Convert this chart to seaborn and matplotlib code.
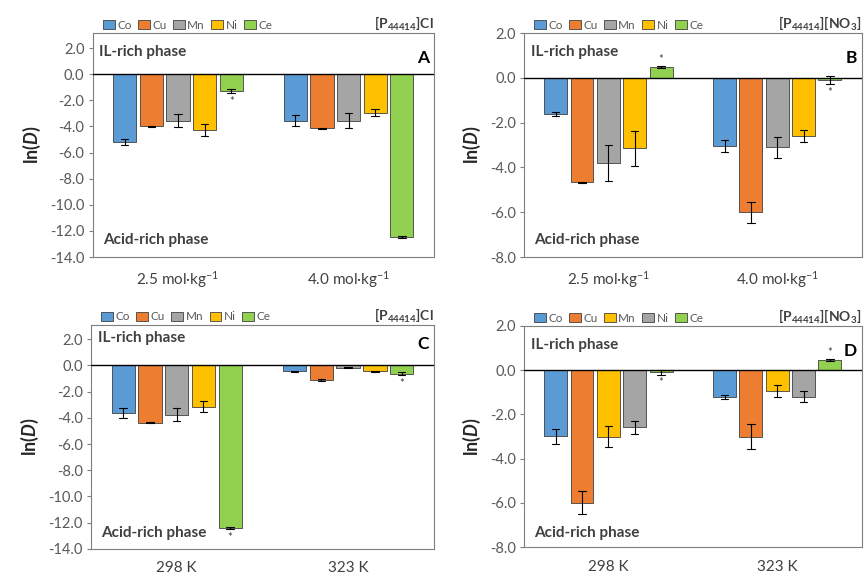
import pandas as pd
import matplotlib
matplotlib.use('Agg')
import matplotlib.pyplot as plt
import seaborn as sns

# Metals and group labels
metals = ['Co', 'Cu', 'Mn', 'Ni', 'Ce']
conc_labels = ['2.5 mol·kg$^{-1}$', '4.0 mol·kg$^{-1}$']
temp_labels = ['298 K', '323 K']

# ln(D) values (first group, second group)
a_values = {'Co': [-5.2, -3.55], 'Cu': [-4.0, -4.15], 'Mn': [-3.55, -3.55], 'Ni': [-4.3, -2.95], 'Ce': [-1.3, -12.45]}
a_errors = {'Co': [0.2, 0.45], 'Cu': [0.05, 0.05], 'Mn': [0.5, 0.6], 'Ni': [0.47, 0.25], 'Ce': [0.15, 0.1]}

b_values = {'Co': [-1.62, -3.05], 'Cu': [-4.67, -6.0], 'Mn': [-3.8, -3.1], 'Ni': [-3.15, -2.6], 'Ce': [0.48, -0.09]}
b_errors = {'Co': [0.1, 0.28], 'Cu': [0.03, 0.47], 'Mn': [0.82, 0.46], 'Ni': [0.78, 0.28], 'Ce': [0.05, 0.18]}

c_values = {'Co': [-3.64, -0.45], 'Cu': [-4.36, -1.1], 'Mn': [-3.77, -0.18], 'Ni': [-3.14, -0.45], 'Ce': [-12.4, -0.63]}
c_errors = {'Co': [0.4, 0.05], 'Cu': [0.03, 0.08], 'Mn': [0.5, 0.03], 'Ni': [0.4, 0.05], 'Ce': [0.1, 0.1]}

d_values = {'Co': [-2.99, -1.2], 'Cu': [-6.0, -3.0], 'Mn': [-3.0, -0.95], 'Ni': [-2.58, -1.2], 'Ce': [-0.1, 0.45]}
d_errors = {'Co': [0.35, 0.1], 'Cu': [0.52, 0.57], 'Mn': [0.47, 0.28], 'Ni': [0.3, 0.24], 'Ce': [0.1, 0.05]}

# asterisk on the Ce bars: 'below' or 'above' per group, None for none
a_stars = ['below', None]
b_stars = ['above', 'below']
c_stars = ['below', 'below']
d_stars = ['below', 'above']

colors_std = {'Co': '#5B9BD5', 'Cu': '#ED7D31', 'Mn': '#A5A5A5', 'Ni': '#FFC000', 'Ce': '#92D050'}
colors_d = {'Co': '#5B9BD5', 'Cu': '#ED7D31', 'Mn': '#FFC000', 'Ni': '#A5A5A5', 'Ce': '#92D050'}

sns.set_style('white')
plt.rcParams['font.family'] = ['Lato', 'DejaVu Sans']
plt.rcParams['mathtext.fontset'] = 'custom'
plt.rcParams['mathtext.rm'] = 'Lato'
plt.rcParams['mathtext.it'] = 'Lato:italic'
plt.rcParams['mathtext.bf'] = 'Lato:bold'
plt.rcParams['mathtext.bfit'] = 'Lato:bold:italic'


def long_table(groups, values, errors):
    # two rows per bar (value -/+ error) so the min-max interval is the error bar
    rows = []
    for m in metals:
        for g, v, e in zip(groups, values[m], errors[m]):
            rows.append({'group': g, 'metal': m, 'lnD': v - e})
            rows.append({'group': g, 'metal': m, 'lnD': v + e})
    return pd.DataFrame(rows)


def draw_panel(ax, groups, values, errors, palette, ylim, yticks, title, letter, stars, il_y, acid_y):
    df = long_table(groups, values, errors)
    sns.barplot(data=df, x='group', y='lnD', hue='metal', order=groups, hue_order=metals,
                palette=palette, errorbar=('pi', 100), capsize=0.22, width=0.78, gap=0.13,
                err_kws={'color': 'black', 'linewidth': 0.8}, edgecolor='#404040', linewidth=0.6,
                saturation=1, ax=ax)
    ax.axhline(0, color='black', linewidth=1.0, zorder=3)
    ax.set_ylim(*ylim)
    ax.set_yticks(yticks)
    ax.set_yticklabels(['%.1f' % t for t in yticks], color='#595959', fontsize=10.5)
    ax.set_xticks(range(len(groups)))
    ax.set_xticklabels(groups, color='#404040', fontsize=11)
    ax.tick_params(axis='x', length=0, pad=9)
    ax.tick_params(axis='y', length=3, width=0.8, color='#7f7f7f', direction='out', left=True, pad=3)
    ax.set_xlabel('')
    ax.set_ylabel(r'ln($\mathbfit{D}$)', fontsize=13, fontweight='bold', labelpad=5)
    for s in ax.spines.values():
        s.set_color('#7f7f7f')
        s.set_linewidth(0.8)

    leg = ax.legend(loc='center left', bbox_to_anchor=(0.03, 1.035), ncol=5, frameon=False,
                    fontsize=8.5, handlelength=1.0, handleheight=0.8, columnspacing=0.55,
                    handletextpad=0.2, borderpad=0, borderaxespad=0)
    for t in leg.get_texts():
        t.set_color('#595959')

    ax.text(1.0, 1.04, title, transform=ax.transAxes, ha='right', va='center',
            fontsize=10, fontweight='bold', color='#404040')
    ax.text(0.985, il_y - 0.025, letter, transform=ax.transAxes, ha='right', va='center',
            fontsize=12.5, fontweight='bold', color='black')
    ax.text(0.02, il_y, 'IL-rich phase', transform=ax.transAxes, ha='left', va='center',
            fontsize=11, fontweight='bold', color='#404040')
    ax.text(0.03, acid_y, 'Acid-rich phase', transform=ax.transAxes, ha='left', va='center',
            fontsize=11, fontweight='bold', color='#404040')

    # asterisks on the Ce bars
    ce_bars = ax.containers[metals.index('Ce')]
    for bar, v, e, st in zip(ce_bars, values['Ce'], errors['Ce'], stars):
        if st is None:
            continue
        xc = bar.get_x() + bar.get_width() / 2
        if st == 'below':
            ax.annotate('*', (xc, v - e), xytext=(0, -2), textcoords='offset points',
                        ha='center', va='top', fontsize=8, color='#404040')
        else:
            ax.annotate('*', (xc, v + e), xytext=(0, 1), textcoords='offset points',
                        ha='center', va='bottom', fontsize=8, color='#404040')


fig = plt.figure(figsize=(8.66, 5.79), dpi=100)
ax_a = fig.add_axes([0.107, 0.556, 0.394, 0.387])
ax_b = fig.add_axes([0.605, 0.556, 0.390, 0.387])
ax_c = fig.add_axes([0.105, 0.052, 0.396, 0.387])
ax_d = fig.add_axes([0.605, 0.055, 0.390, 0.382])

big_ticks = [-14, -12, -10, -8, -6, -4, -2, 0, 2]
small_ticks = [-8, -6, -4, -2, 0, 2]

draw_panel(ax_a, conc_labels, a_values, a_errors, colors_std, (-14, 3.15), big_ticks,
           r'[P$_{\mathbf{44414}}$]Cl', 'A', a_stars, 0.915, 0.076)
draw_panel(ax_b, conc_labels, b_values, b_errors, colors_std, (-8, 2), small_ticks,
           r'[P$_{\mathbf{44414}}$][NO$_{\mathbf{3}}$]', 'B', b_stars, 0.915, 0.076)
draw_panel(ax_c, temp_labels, c_values, c_errors, colors_std, (-14, 3.1), big_ticks,
           r'[P$_{\mathbf{44414}}$]Cl', 'C', c_stars, 0.94, 0.07)
draw_panel(ax_d, temp_labels, d_values, d_errors, colors_d, (-8, 2), small_ticks,
           r'[P$_{\mathbf{44414}}$][NO$_{\mathbf{3}}$]', 'D', d_stars, 0.914, 0.063)

fig.savefig('out.png', dpi=100)
